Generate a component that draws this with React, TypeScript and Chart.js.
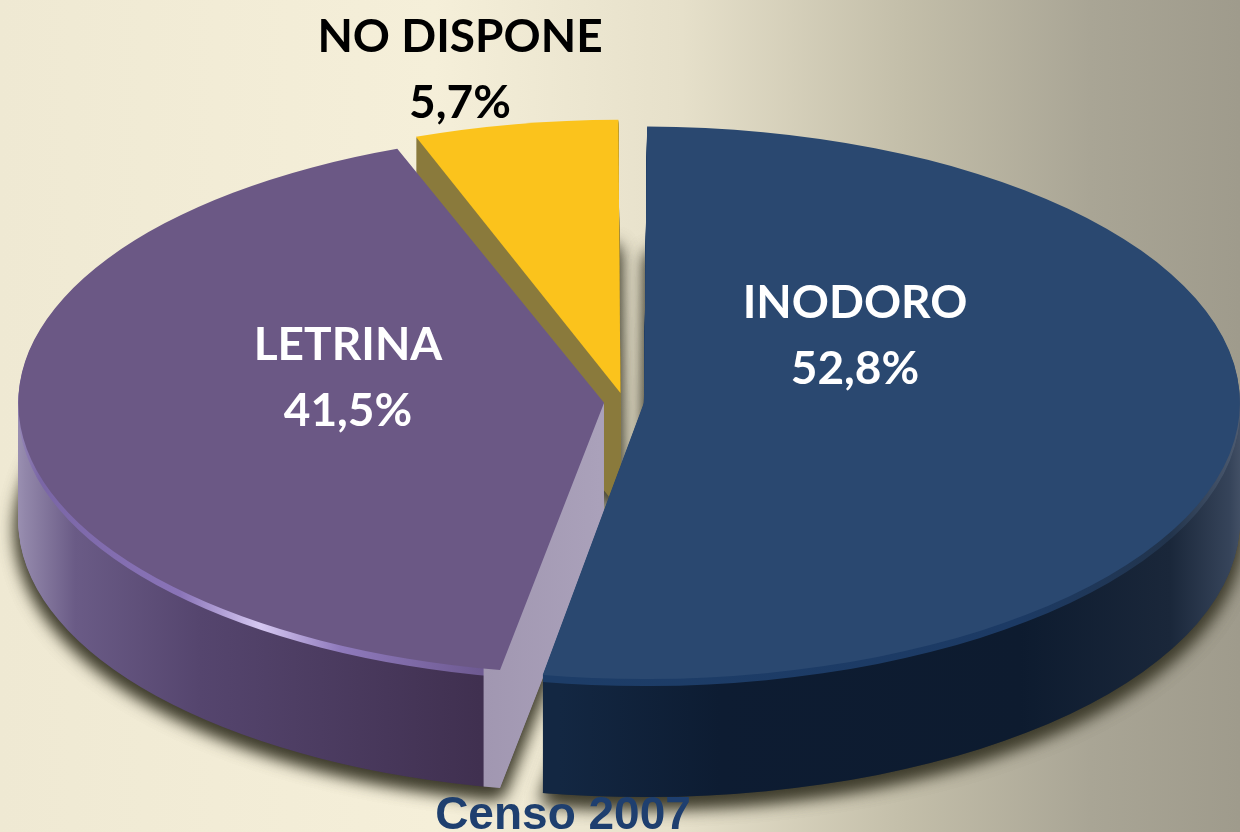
import React, { useEffect, useRef } from "react";
import { Chart, registerables } from "chart.js";

Chart.register(...registerables);

// ---- data ----
const categories = ["INODORO", "LETRINA", "NO DISPONE"];
const percentages = [52.8, 41.5, 5.7];
const percentLabels = ["52,8%", "41,5%", "5,7%"];
const sourceNote = "Censo 2007";

// ---- styles ----
const topColors = ["#2a4870", "#6b5885", "#fbc31c"];
const labelColors = ["#ffffff", "#ffffff", "#000000"];
const sideStops: [number, string][][] = [
  [[540, "#132742"], [700, "#0d1c32"], [1000, "#0d1b2f"], [1150, "#1a273a"], [1210, "#36445a"], [1240, "#5a667a"]],
  [[15, "#b2a9c8"], [45, "#9287aa"], [95, "#6a5b86"], [220, "#55456e"], [500, "#403050"], [503, "#403050"], [504, "#a197b1"], [620, "#aaa1ba"]],
  [[400, "#8a7a3c"], [640, "#8a7a3c"]],
];
const rimStops: [number, string][][] = [
  [[540, "#1d3d68"], [1000, "#1c3a64"], [1150, "#22344c"], [1240, "#5a667a"]],
  [[15, "#b2a9c8"], [60, "#7a66a6"], [200, "#8a74b8"], [280, "#d6c8f2"], [360, "#8f7abc"], [500, "#6e5a92"], [503, "#6e5a92"], [504, "#a197b1"], [620, "#aaa1ba"]],
  [[400, "#8a7a3c"], [640, "#8a7a3c"]],
];
const ELLIPSE = { cx: 624, cy: 402, rx: 576, ry: 267, depth: 118, rim: 7 };
const LABEL_POS: [number, number][] = [[855, 318], [348, 360], [460, 52]];
const LINE_GAP = 66;
const LABEL_FONT = "bold 46px Lato";
const NOTE_POS: [number, number] = [563, 829];

const pie3d = {
  id: "pie3d",
  beforeDatasetsDraw(chart: any) {
    const meta = chart.getDatasetMeta(0);
    const arcs = meta.data;
    if (!arcs.length) return;
    const a0 = arcs[0];
    const R = a0.outerRadius;
    const cxC = a0.x;
    const cyC = a0.y;
    const sx = ELLIPSE.rx / R;
    const sy = ELLIPSE.ry / R;
    const ctx: CanvasRenderingContext2D = chart.ctx;
    const apply = (dy: number) => {
      ctx.translate(ELLIPSE.cx, ELLIPSE.cy + dy);
      ctx.scale(sx, sy);
      ctx.translate(-cxC, -cyC);
    };
    const toC = (X: number) => cxC + (X - ELLIPSE.cx) / sx;
    const grad = (stops: [number, string][]) => {
      const x0 = stops[0][0];
      const x1 = stops[stops.length - 1][0];
      const g = ctx.createLinearGradient(toC(x0), 0, toC(x1), 0);
      stops.forEach(([x, c]) => g.addColorStop((x - x0) / (x1 - x0), c));
      return g;
    };
    const sideG = sideStops.map(grad);
    const rimG = rimStops.map(grad);
    const drawArc = (el: any, color: any, dy: number) => {
      const f = Object.create(el);
      f.options = { ...el.options, backgroundColor: color, borderWidth: 0 };
      ctx.save();
      apply(dy);
      f.draw(ctx);
      ctx.restore();
    };
    const order = [1, 2, 0];
    ctx.save();
    ctx.shadowColor = "rgba(60,58,42,0.95)";
    ctx.shadowBlur = 18;
    ctx.shadowOffsetY = 9;
    order.forEach((i) => drawArc(arcs[i], sideG[i], ELLIPSE.depth));
    order.forEach((i) => drawArc(arcs[i], sideG[i], ELLIPSE.depth));
    ctx.restore();
    for (let d = ELLIPSE.depth - 1; d >= 1; d--) {
      order.forEach((i) => drawArc(arcs[i], d <= ELLIPSE.rim ? rimG[i] : sideG[i], d));
    }
    ctx.save();
    apply(0);
  },
  afterDatasetsDraw(chart: any) {
    chart.ctx.restore();
  },
  afterDraw(chart: any) {
    const ctx: CanvasRenderingContext2D = chart.ctx;
    ctx.save();
    ctx.textAlign = "center";
    ctx.textBaseline = "alphabetic";
    ctx.font = LABEL_FONT;
    categories.forEach((c, i) => {
      const [x, y] = LABEL_POS[i];
      ctx.fillStyle = labelColors[i];
      ctx.fillText(c, x, y);
      ctx.fillText(percentLabels[i], x, y + LINE_GAP);
    });
    ctx.font = "bold 46px 'Liberation Sans', Arial, sans-serif";
    ctx.fillStyle = "#1e3f6f";
    ctx.fillText(sourceNote, NOTE_POS[0], NOTE_POS[1]);
    ctx.restore();
  },
};

export default function App() {
  const ref = useRef<HTMLCanvasElement | null>(null);
  useEffect(() => {
    if (!ref.current) return;
    const chart = new Chart(ref.current, {
      type: "pie",
      data: {
        labels: categories,
        datasets: [
          {
            data: percentages,
            backgroundColor: topColors,
            borderWidth: 0,
            offset: 54,
            hoverOffset: 54,
            clip: false,
          } as any,
        ],
      },
      options: {
        responsive: false,
        animation: false,
        events: [],
        layout: { padding: 0 },
        plugins: { legend: { display: false }, tooltip: { enabled: false } },
      },
      plugins: [pie3d],
    });
    return () => chart.destroy();
  }, []);
  return (
    <div
      style={{
        position: "fixed",
        left: 0,
        top: 0,
        width: 1240,
        height: 832,
        overflow: "hidden",
        background:
          "linear-gradient(90deg, #efe9d3 0%, #f5efd9 35%, #e6e0ca 55%, #c3bea9 73%, #a9a595 88%, #9f9b8c 100%)",
      }}
    >
      <canvas ref={ref} width={1240} height={832} style={{ display: "block" }} />
    </div>
  );
}
